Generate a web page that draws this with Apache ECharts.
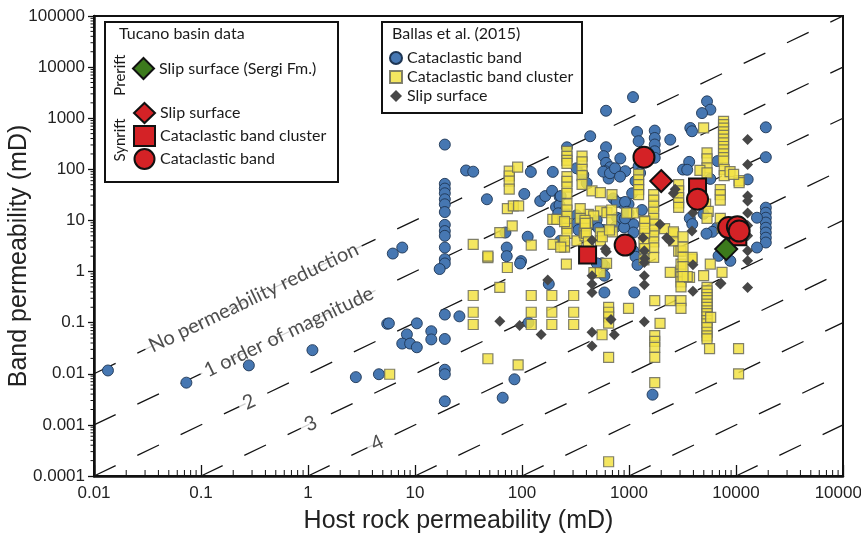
<!DOCTYPE html>
<html><head><meta charset="utf-8">
<script src="https://cdn.jsdelivr.net/npm/echarts@6/dist/echarts.min.js"></script>
<style>html,body{margin:0;background:#fff}#c{width:861px;height:540px}</style>
</head><body><div id="c"></div>
<script>
// ---- Ballas et al. (2015) ----
const ballasBand = [
[0.0135,0.0116],[0.073,0.0067],[0.28,0.0146],[1.1,0.029],[2.8,0.0086],[4.6,0.0098],[5.5,0.095],
[6.2,2.25],[7.6,2.95],
[19,305],[19,52],[19,42],[19,34],[19,26],[19,20.7],[19,14.6],[19,8.2],[19,6.2],[19,5.0],[19,2.95],[19,1.75],[19,1.44],[17,1.12],
[30,95],[35,90],[47,26],[105,33],[121,89],[194,89],[263,270],[148,24],[165,30],[191,38],[208,18.3],[225,29],[181,6.0],[113,4.8],[70,5.8],[72,2.95],[72,2.0],[98,1.6],[96,1.44],[178,0.57],
[19,0.144],[26,0.133],[5.7,0.097],[10.4,0.097],[8.4,0.059],[7.6,0.039],[9.0,0.039],[10.4,0.033],[14.2,0.068],[14.2,0.047],[19,0.048],[115,0.10],[19,0.012],[19,0.0098],[85,0.0078],[66,0.0034],[19,0.0029],
[1090,2590],[610,1400],[434,444],[1190,538],[1230,355],[1740,573],[1740,411],[1740,306],[1740,226],[1740,168],[2430,380],[610,271],[580,181],[610,134],[668,110],[600,92],[645,66],[745,92],[829,163],[922,92],[1230,115],[1270,85],[1150,59],[3200,99],[3740,644],[3880,556],[5360,2140],[5760,1470],[4810,1260],[6730,145],[861,22],[990,20.7],[773,11.3],[829,8.4],[1100,8.4],[1100,5.8],[1100,2.54],[468,8.4],[228,4],[6640,7.2],
[589,1.3],[589,0.83],[589,0.39],[1120,0.39],[1660,0.0039],
[19000,664],[19000,173],[12860,63.6],[19000,17.8],[19000,14.2],[19000,11.3],[19000,9.1],[19000,7.2],[19000,5.8],[19000,4.6],[19000,3.7],[15700,11.3],[15700,2.95],[8850,1.62],[6870,2.03],
[861,11],[1320,16],[1070,34],[580,6.5],[560,1.45],[500,1.45],[1150,1.95],[1200,1.35],[224,20],[230,30],[250,15],[240,11],
[3700,11],[3900,8.5],[4980,13.5],[6000,6],[5300,5.5],[3650,140],[3500,98],[5750,65],[750,7.5],[900,7.3],[990,14],
[575,90],[664,84],[740,105],[824,72],[324,105],[374,78],[402,54],[218,13.8],[324,12.6],[324,8.7],[337,6.5],[499,10.2],[517,7.1],[713,27],[766,23],[918,23],[918,11],[955,14.8]
];
const ballasCluster = [
[5.8,0.0098],[48,1.88],[73,1.2],[62,0.49],[35,0.34],[35,0.16],[35,0.092],[122,0.34],[122,0.16],[122,0.092],[190,0.34],[190,0.16],[190,0.092],[304,0.34],[304,0.16],[304,0.092],[48,0.0197],[92,0.015],
[76,92],[76,74],[76,59],[76,41],[91,110],[73,17],[83,19.2],[93,19.2],[81,7.8],[62,5.8],[35,3.4],[122,3.3],[48,2.0],[194,10.5],[212,10.5],[195,3.4],[248,3.2],[326,4],
[263,224],[263,180],[263,150],[263,131],[263,72],[263,58],[263,45],[263,34],[263,21],[263,16],[263,12],[263,8.7],[263,7],[263,5.6],
[364,181],[364,140],[364,100],[364,75],[364,51],
[451,38],[540,35],[693,32],[540,15.3],[622,14.2],[417,13.2],[468,12.3],[540,5.8],[540,4],
[1230,80],[1230,62],[1230,50],[1230,40],[1230,32],
[1700,32],[1700,25],[1700,19],[1700,14.5],[1700,11],[1700,8.5],[1700,6.5],[1700,5],[1700,3.8],[1700,2.9],[1700,1.9],
[1400,9.8],[1400,5.5],
[2910,50],[2910,38],[2910,28],[2910,22],[2910,18],
[2610,5.5],[2610,4],[2910,2.5],
[5360,209],[5360,160],[5360,107],[4980,645],
[7650,870],[7650,750],[7650,640],[7650,540],[7650,460],[7650,390],[7650,330],[7650,280],[7650,240],[7650,200],[7650,170],[7650,145],
[7760,100],[7760,75],[8800,90],[10700,60],[10700,55],[9500,80],
[645,0.2],[645,0.16],[645,0.129],[645,0.098],[560,0.058],[645,0.021],[990,0.19],[1740,0.27],[1950,0.097],[1740,0.056],[1740,0.043],[1740,0.033],[1740,0.021],[1740,0.0067],[645,0.00019],[2430,0.27],[3060,0.27],[3060,0.19],[2430,0.96],[3060,1.03],[3060,0.79],[3060,0.63],[3060,0.5],[3060,2.5],[3060,1.4],[3880,1.75],[3680,0.77],[4980,0.83],[5750,1.4],[7400,0.96],
[5360,0.49],[5360,0.42],[5360,0.36],[5360,0.31],[5360,0.27],[5360,0.23],[5360,0.2],[5360,0.17],[5360,0.15],[5360,0.13],[5360,0.11],[5360,0.095],[5360,0.08],[5360,0.065],[5360,0.055],[5360,0.048],
[5660,0.031],[5800,0.127],[10570,0.031],[10570,0.01],
[3880,1.9],[3500,0.8],[4600,95],[5360,85],[5200,21],[5500,15],[5360,11],[7130,40],[7130,32],[7130,25],[7130,11],[7400,7.2],
[350,17],[350,11],[250,9.5],[250,3],[250,4],[410,9],[380,5.8],[700,6],[1400,9.5],[1400,7],[1380,3.6],[1400,2.8],[1380,1.7],[2150,6.9],[2600,6],[3200,4.8],[3200,3],[3200,1.9],[3200,1.25],[3200,0.8],[1100,14],[950,14],[470,0.95],[540,0.95],[260,1.4],[230,3],
[388,10],[388,7],[388,5],[390,8.8],[400,5.6],[417,3.8],[689,16],[689,10.2],[563,4.8],[657,6.5],[617,1.45]
];
const ballasSlip = [
[174,0.68],[62,0.106],[95,0.088],[151,0.059],
[2700,40.6],[2600,34],[3960,14.2],[3880,6.2],[1950,8.4],[2400,4.0],[2250,4.6],[1350,4.6],[1390,2.54],[1400,1.8],[451,4.1],[600,2.75],
[614,2.43],[1390,1.5],[1390,0.83],[1390,0.55],[451,0.83],[451,0.57],[451,0.39],[3960,1.36],[3960,0.41],[7240,0.59],[679,0.115],[729,0.058],[451,0.065],[451,0.035],[1390,0.104],
[12850,383],[12850,125],[12850,30],[12850,24],[12850,14],[12850,8],[12850,5],[12850,2.54],[12850,1.62],[12850,0.49],[7130,0.57]
];
// ---- Tucano basin data ----
const tucanoPreriftSlip = [[8100,2.75]];
const tucanoSynriftSlip = [[2000,59]];
const tucanoSynriftCluster = [[410,2.1],[4370,45],[10400,4.8]];
const tucanoSynriftBand = [[1380,173],[920,3.3],[4370,26],[8530,7.25],[10300,7.5],[10700,6.2]];

// ---- reference lines (band = host x 10^-k) ----
const reductionLines = [
  [[0.01,0.01],[100000,100000]],
  [[0.01,0.001],[100000,10000]],
  [[0.01,0.0001],[100000,1000]],
  [[0.1,0.0001],[100000,100]],
  [[1,0.0001],[100000,10]],
  [[10,0.0001],[100000,1]],
  [[100,0.0001],[100000,0.1]],
  [[1000,0.0001],[100000,0.01]],
  [[10000,0.0001],[100000,0.001]]
];
const lineLabels = [
  [0.31,0.31,'No permeability reduction'],
  [0.66,0.066,'1 order of magnitude'],
  [0.281,0.00281,'2'],
  [1.06,0.00106,'3'],
  [4.43,0.000443,'4']
];
const minorSteps = [2,3,4,5,6,7,8,9];
const xDecades = [0.01,0.1,1,10,100,1000,10000];
const yDecades = [0.0001,0.001,0.01,0.1,1,10,100,1000,10000];

const names = {
  tPre:'Slip surface (Sergi Fm.)', tSlip:'Slip surface', tCl:'Cataclastic band cluster', tBand:'Cataclastic band',
  bBand:'Cataclastic band', bCl:'Cataclastic band cluster', bSlip:'Slip surface'
};

const tickData = [];
xDecades.forEach(d => minorSteps.forEach(m => tickData.push([d*m, 0.0001, 0])));
yDecades.forEach(d => minorSteps.forEach(m => tickData.push([0.01, d*m, 1])));

function fmt(v){
  const e = Math.round(Math.log10(v));
  return e >= 0 ? String(Math.pow(10,e)) : Math.pow(10,e).toFixed(-e);
}

const chart = echarts.init(document.getElementById('c'), null, {renderer:'canvas'});
const series = [];
reductionLines.forEach((seg,i) => series.push({
  type:'line', name:'ref'+i, data:seg, symbol:'none', silent:true, z:1,
  lineStyle:{color:'#151515', width:1.3, type:[24,24]}
}));
series.push({
  type:'scatter', name:'labels', data:lineLabels, symbolSize:1, z:1, silent:true,
  itemStyle:{color:'rgba(0,0,0,0)'},
  label:{show:true, position:'inside', formatter:p=>p.data[2], rotate:25.5,
    fontFamily:'Lato', fontSize:20, color:'#222', backgroundColor:'#fff', padding:[0,5]}
});
series.push({
  type:'custom', name:'minorTicks', data:tickData, silent:true, z:3,
  renderItem:(params, api) => {
    const p = api.coord([api.value(0), api.value(1)]);
    const horiz = api.value(2) === 0;
    return {type:'line', shape: horiz ? {x1:p[0],y1:p[1],x2:p[0],y2:p[1]-6} : {x1:p[0],y1:p[1],x2:p[0]-3.5,y2:p[1]},
      style:{stroke:'#111', lineWidth:1}};
  }
});
series.push({type:'scatter', name:'bBand', data:ballasBand, symbol:'circle', symbolSize:11, z:2,
  itemStyle:{color:'#4677b2', borderColor:'#1e3553', borderWidth:0.9, opacity:1}});
series.push({type:'scatter', name:'bCl', data:ballasCluster, symbol:'rect', symbolSize:10, z:2,
  itemStyle:{color:'#f2e244', borderColor:'#6b6b5c', borderWidth:1.2, opacity:0.85}});
series.push({type:'scatter', name:'bSlip', data:ballasSlip, symbol:'diamond', symbolSize:11, z:2,
  itemStyle:{color:'#474747', opacity:1}});
series.push({type:'scatter', name:'tSlip', data:tucanoSynriftSlip, symbol:'diamond', symbolSize:22, z:4,
  itemStyle:{color:'#d42226', borderColor:'#111', borderWidth:2, opacity:1}});
series.push({type:'scatter', name:'tCl', data:tucanoSynriftCluster, symbol:'rect', symbolSize:17, z:4,
  itemStyle:{color:'#d42226', borderColor:'#111', borderWidth:2, opacity:1}});
series.push({type:'scatter', name:'tBand', data:tucanoSynriftBand, symbol:'circle', symbolSize:21, z:4,
  itemStyle:{color:'#d42226', borderColor:'#111', borderWidth:2, opacity:1}});
series.push({type:'scatter', name:'tPre', data:tucanoPreriftSlip, symbol:'diamond', symbolSize:22, z:4,
  itemStyle:{color:'#3c7a1c', borderColor:'#111', borderWidth:2, opacity:1}});

const legText = {fontFamily:'Lato', fontSize:16, color:'#1a1a1a'};
const option = {
  animation:false,
  backgroundColor:'#fff',
  grid:{left:94, right:18, top:16, bottom:64, show:true, borderColor:'#111', borderWidth:2, outerBoundsMode:'none', containLabel:false},
  xAxis:{type:'log', logBase:10, min:0.01, max:100000,
    name:'Host rock permeability (mD)', nameLocation:'middle', nameGap:33, nameMoveOverlap:false,
    nameTextStyle:{fontFamily:'Liberation Sans', fontSize:25, color:'#222', padding:[0,20,0,0]},
    axisLine:{lineStyle:{color:'#111', width:2.5}},
    axisTick:{inside:true, length:11, lineStyle:{color:'#111', width:1.3}},
    axisLabel:{formatter:fmt, margin:9, fontFamily:'Liberation Sans', fontSize:17, color:'#222', showMaxLabel:true, alignMaxLabel:'center'},
    splitLine:{show:false}},
  yAxis:{type:'log', logBase:10, min:0.0001, max:100000,
    name:'Band permeability (mD)', nameLocation:'middle', nameGap:62, nameRotate:90, nameMoveOverlap:false,
    nameTextStyle:{fontFamily:'Liberation Sans', fontSize:25, color:'#222', padding:[0,20,0,0]},
    axisLine:{lineStyle:{color:'#111', width:2.5}},
    axisTick:{inside:false, length:6, lineStyle:{color:'#111', width:1.3}},
    axisLabel:{formatter:fmt, margin:9, fontFamily:'Liberation Sans', fontSize:17, color:'#222'},
    splitLine:{show:false}},
  legend:[
    {data:['tPre'], left:132, top:57, orient:'vertical', itemWidth:21, itemHeight:21, padding:0,
      selectedMode:false, formatter:n=>names[n], textStyle:legText, z:6},
    {data:['tSlip','tCl','tBand'], left:133, top:102, orient:'vertical', itemGap:1, itemWidth:21, itemHeight:20, padding:0,
      selectedMode:false, formatter:n=>names[n], textStyle:legText, z:6},
    {data:['bBand','bCl','bSlip'], left:389, top:50, orient:'vertical', itemGap:3, itemWidth:12, itemHeight:12, padding:0,
      selectedMode:false, formatter:n=>names[n], textStyle:legText, z:6}
  ],
  graphic:[
    {type:'rect', z:5, shape:{x:105, y:22, width:233, height:160}, style:{fill:'#fff', stroke:'#111', lineWidth:2}},
    {type:'rect', z:5, shape:{x:382, y:22, width:200, height:91}, style:{fill:'#fff', stroke:'#111', lineWidth:2}},
    {type:'text', z:7, x:119, y:34, style:{text:'Tucano basin data', fontFamily:'Lato', fontSize:16, fill:'#1a1a1a', textAlign:'left', textVerticalAlign:'middle'}},
    {type:'text', z:7, x:392, y:34, style:{text:'Ballas et al. (2015)', fontFamily:'Lato', fontSize:16, fill:'#1a1a1a', textAlign:'left', textVerticalAlign:'middle'}},
    {type:'text', z:7, x:120, y:75, rotation:Math.PI/2, style:{text:'Prerift', fontFamily:'Lato', fontSize:15, fill:'#1a1a1a', textAlign:'center', textVerticalAlign:'middle'}},
    {type:'text', z:7, x:120, y:140, rotation:Math.PI/2, style:{text:'Synrift', fontFamily:'Lato', fontSize:15, fill:'#1a1a1a', textAlign:'center', textVerticalAlign:'middle'}}
  ],
  series
};
chart.setOption(option);
</script>
</body></html>
